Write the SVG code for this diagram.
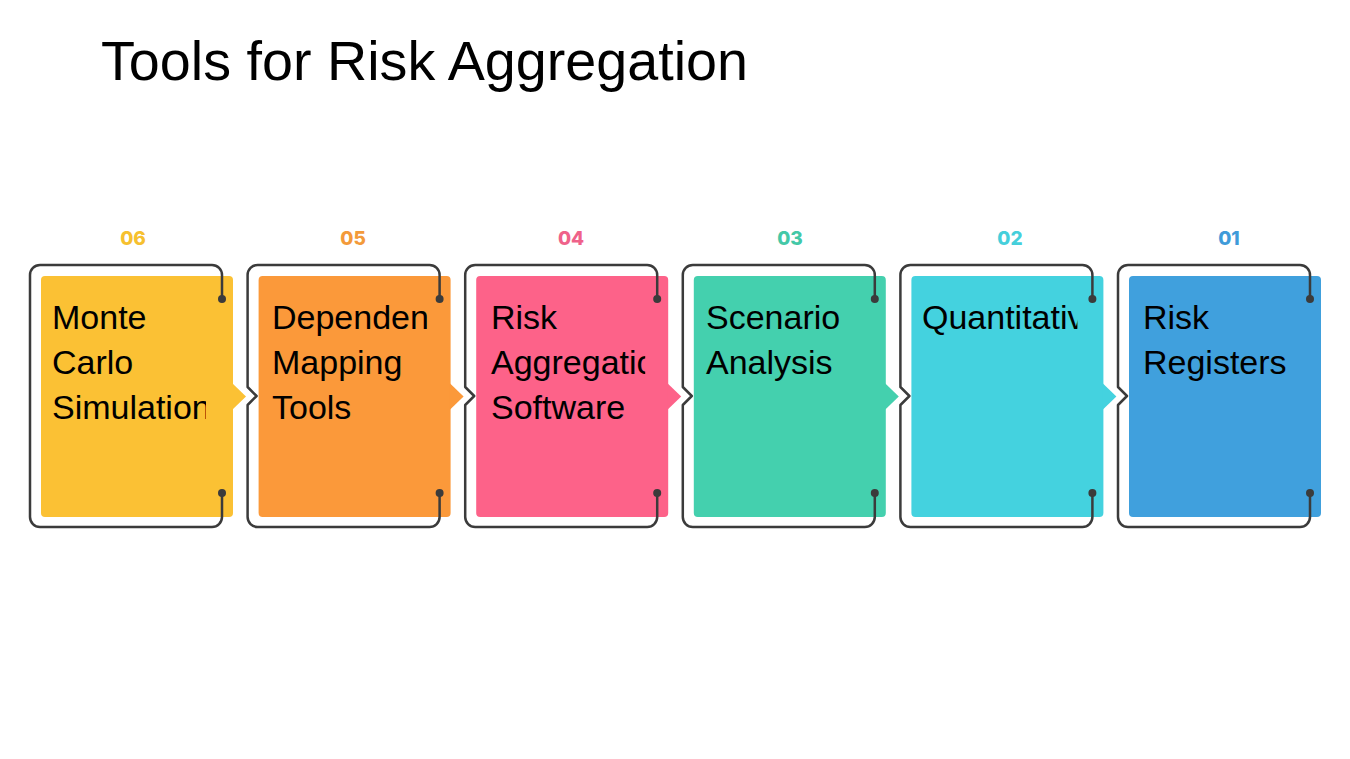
<svg xmlns="http://www.w3.org/2000/svg" width="1350" height="759" viewBox="0 0 1350 759">
  <style>
    .title { font-family: "Liberation Sans", Arial, sans-serif; font-size: 56px; fill: #000; }
    .lbl { font-family: "Liberation Sans", Arial, sans-serif; font-size: 34px; fill: #000; }
    .num { font-family: Inter, "Liberation Sans", sans-serif; font-size: 19px; font-weight: 800; text-anchor: middle; }
    .outline { fill: none; stroke: #3b3b3b; stroke-width: 2.5; stroke-linejoin: round; }
    .dot { fill: #3b3b3b; }
  </style>
  <defs>
    <clipPath id="c1"><rect x="41" y="276" width="165" height="241"/></clipPath>
    <clipPath id="c2"><rect x="258.6" y="276" width="169" height="241"/></clipPath>
    <clipPath id="c3"><rect x="476.2" y="276" width="169" height="241"/></clipPath>
    <clipPath id="c4"><rect x="693.8" y="276" width="169" height="241"/></clipPath>
    <clipPath id="c5"><rect x="911.4" y="276" width="166" height="241"/></clipPath>
    <clipPath id="c6"><rect x="1129" y="276" width="169" height="241"/></clipPath>
  </defs>
  <rect width="1350" height="759" fill="#ffffff"/>
  <text class="title" x="101" y="80" textLength="647" lengthAdjust="spacingAndGlyphs">Tools for Risk Aggregation</text>

  <g id="card-06">
    <text class="num" x="133" y="245" fill="#f6c02f">06</text>
    <rect x="41" y="276" width="192" height="241" rx="4" fill="#fbc134"/>
    <polygon points="232,383 246,396.5 232,410" fill="#fbc134"/>
    <path class="outline" d="M222,299 V275 A10,10 0 0 0 212,265 H40 A10,10 0 0 0 30,275 V517 A10,10 0 0 0 40,527 H212 A10,10 0 0 0 222,517 V493"/>
    <circle class="dot" cx="222" cy="299" r="4"/>
    <circle class="dot" cx="222" cy="493" r="4"/>
    <g clip-path="url(#c1)">
      <text class="lbl" x="52" y="329">Monte</text>
      <text class="lbl" x="52" y="374">Carlo</text>
      <text class="lbl" x="52" y="419">Simulation</text>
    </g>
  </g>

  <g id="card-05">
    <text class="num" x="353" y="245" fill="#f39a3a">05</text>
    <rect x="258.6" y="276" width="192" height="241" rx="4" fill="#fb993a"/>
    <polygon points="449.6,383 463.6,396.5 449.6,410" fill="#fb993a"/>
    <path class="outline" d="M439.6,299 V275 A10,10 0 0 0 429.6,265 H257.6 A10,10 0 0 0 247.6,275 V387 L256.6,396 L247.6,405 V517 A10,10 0 0 0 257.6,527 H429.6 A10,10 0 0 0 439.6,517 V493"/>
    <circle class="dot" cx="439.6" cy="299" r="4"/>
    <circle class="dot" cx="439.6" cy="493" r="4"/>
    <g clip-path="url(#c2)">
      <text class="lbl" x="272" y="329">Dependency</text>
      <text class="lbl" x="272" y="374">Mapping</text>
      <text class="lbl" x="272" y="419">Tools</text>
    </g>
  </g>

  <g id="card-04">
    <text class="num" x="571" y="245" fill="#ef628a">04</text>
    <rect x="476.2" y="276" width="192" height="241" rx="4" fill="#fd6289"/>
    <polygon points="667.2,383 681.2,396.5 667.2,410" fill="#fd6289"/>
    <path class="outline" d="M657.2,299 V275 A10,10 0 0 0 647.2,265 H475.2 A10,10 0 0 0 465.2,275 V387 L474.2,396 L465.2,405 V517 A10,10 0 0 0 475.2,527 H647.2 A10,10 0 0 0 657.2,517 V493"/>
    <circle class="dot" cx="657.2" cy="299" r="4"/>
    <circle class="dot" cx="657.2" cy="493" r="4"/>
    <g clip-path="url(#c3)">
      <text class="lbl" x="491" y="329">Risk</text>
      <text class="lbl" x="491" y="374">Aggregation</text>
      <text class="lbl" x="491" y="419">Software</text>
    </g>
  </g>

  <g id="card-03">
    <text class="num" x="790" y="245" fill="#44c8a7">03</text>
    <rect x="693.8" y="276" width="192" height="241" rx="4" fill="#44d0ae"/>
    <polygon points="884.8,383 898.8,396.5 884.8,410" fill="#44d0ae"/>
    <path class="outline" d="M874.8,299 V275 A10,10 0 0 0 864.8,265 H692.8 A10,10 0 0 0 682.8,275 V387 L691.8,396 L682.8,405 V517 A10,10 0 0 0 692.8,527 H864.8 A10,10 0 0 0 874.8,517 V493"/>
    <circle class="dot" cx="874.8" cy="299" r="4"/>
    <circle class="dot" cx="874.8" cy="493" r="4"/>
    <g clip-path="url(#c4)">
      <text class="lbl" x="706" y="329">Scenario</text>
      <text class="lbl" x="706" y="374">Analysis</text>
    </g>
  </g>

  <g id="card-02">
    <text class="num" x="1010" y="245" fill="#45cfdb">02</text>
    <rect x="911.4" y="276" width="192" height="241" rx="4" fill="#44d2df"/>
    <polygon points="1102.4,383 1116.4,396.5 1102.4,410" fill="#44d2df"/>
    <path class="outline" d="M1092.4,299 V275 A10,10 0 0 0 1082.4,265 H910.4 A10,10 0 0 0 900.4,275 V387 L909.4,396 L900.4,405 V517 A10,10 0 0 0 910.4,527 H1082.4 A10,10 0 0 0 1092.4,517 V493"/>
    <circle class="dot" cx="1092.4" cy="299" r="4"/>
    <circle class="dot" cx="1092.4" cy="493" r="4"/>
    <g clip-path="url(#c5)">
      <text class="lbl" x="922" y="329">Quantitative</text>
    </g>
  </g>

  <g id="card-01">
    <text class="num" x="1229" y="245" fill="#3f9bd9">01</text>
    <rect x="1129" y="276" width="192" height="241" rx="4" fill="#40a0dd"/>
    <path class="outline" d="M1310,299 V275 A10,10 0 0 0 1300,265 H1128 A10,10 0 0 0 1118,275 V387 L1127,396 L1118,405 V517 A10,10 0 0 0 1128,527 H1300 A10,10 0 0 0 1310,517 V493"/>
    <circle class="dot" cx="1310" cy="299" r="4"/>
    <circle class="dot" cx="1310" cy="493" r="4"/>
    <g clip-path="url(#c6)">
      <text class="lbl" x="1143" y="329">Risk</text>
      <text class="lbl" x="1143" y="374">Registers</text>
    </g>
  </g>

  <g id="connectors"></g>
</svg>
